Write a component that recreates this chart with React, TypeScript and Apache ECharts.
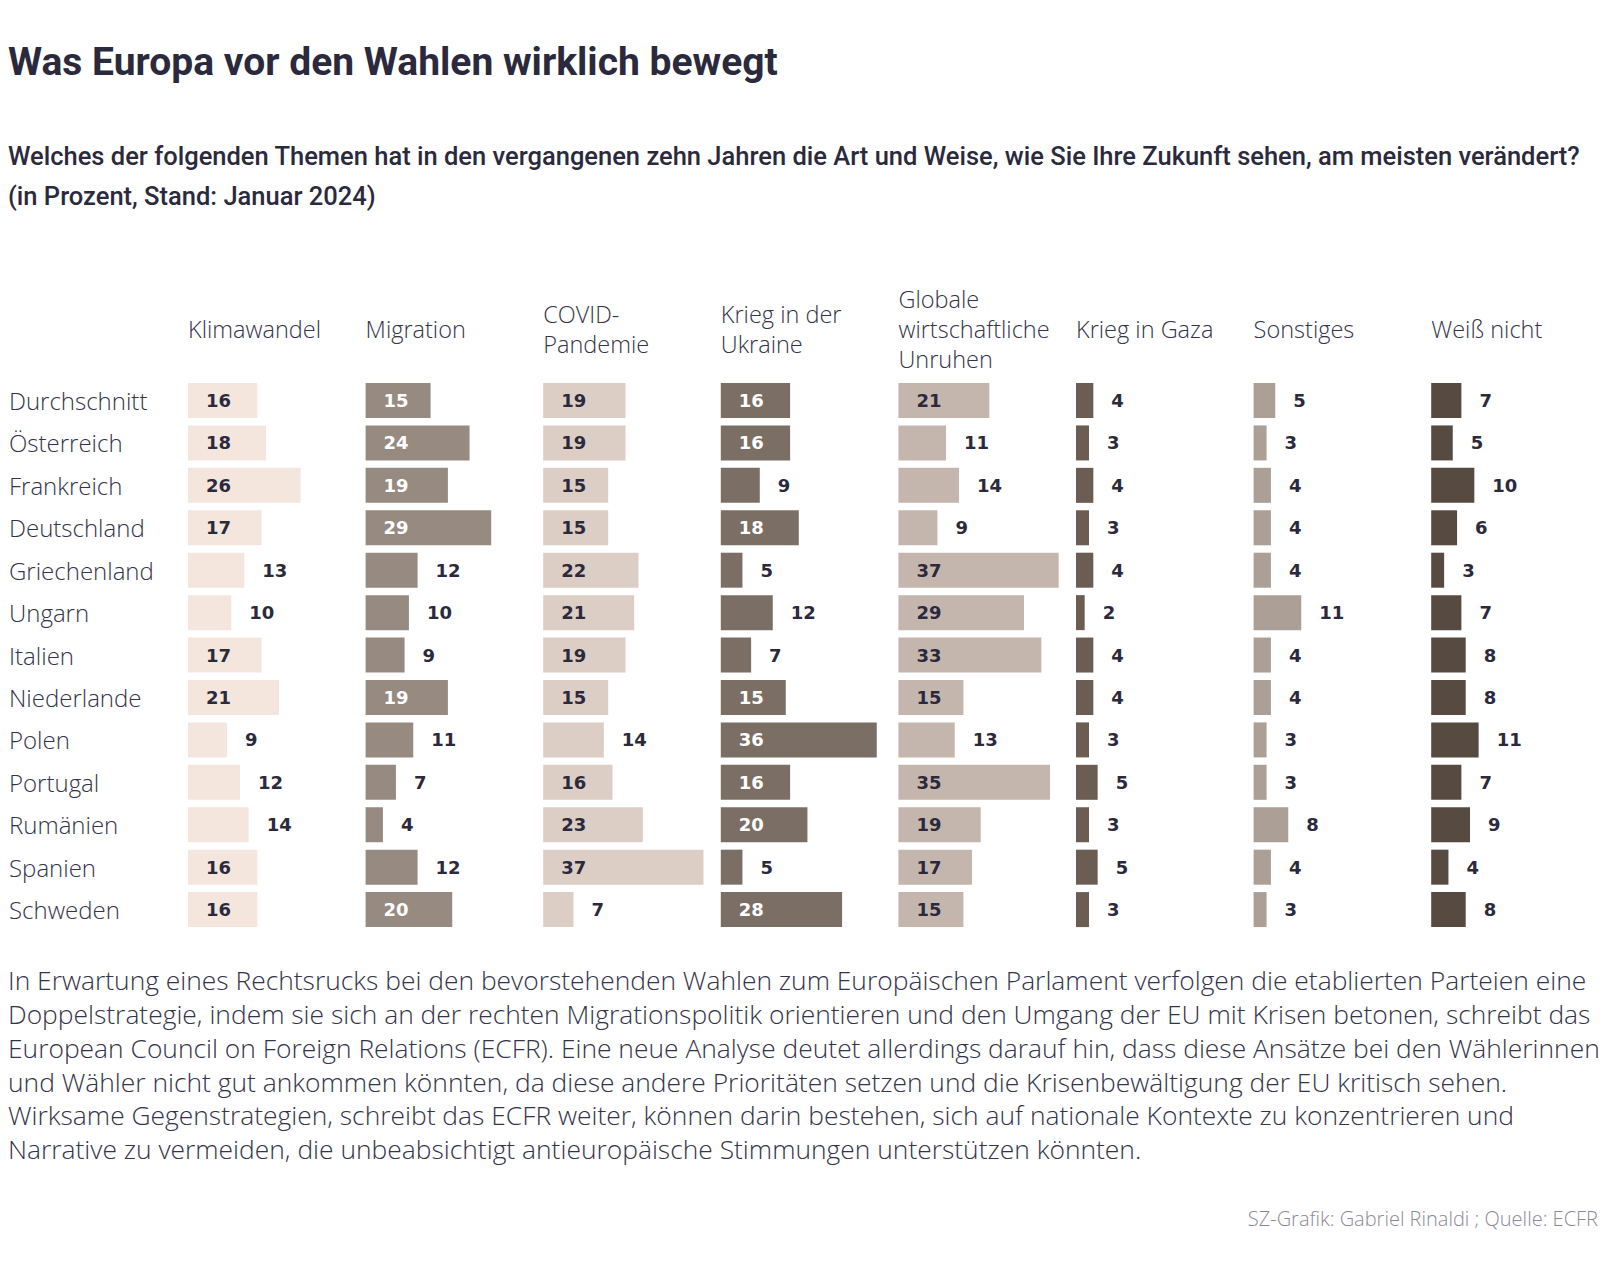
import React, { useEffect, useRef } from "react";
import * as echarts from "echarts";

const countries = [
  "Durchschnitt", "Österreich", "Frankreich", "Deutschland", "Griechenland", "Ungarn",
  "Italien", "Niederlande", "Polen", "Portugal", "Rumänien", "Spanien", "Schweden",
];
const topics = [
  "Klimawandel", "Migration", "COVID-\nPandemie", "Krieg in der\nUkraine",
  "Globale\nwirtschaftliche\nUnruhen", "Krieg in Gaza", "Sonstiges", "Weiß nicht",
];
const klimawandel = [16, 18, 26, 17, 13, 10, 17, 21, 9, 12, 14, 16, 16];
const migration = [15, 24, 19, 29, 12, 10, 9, 19, 11, 7, 4, 12, 20];
const covid = [19, 19, 15, 15, 22, 21, 19, 15, 14, 16, 23, 37, 7];
const ukraine = [16, 16, 9, 18, 5, 12, 7, 15, 36, 16, 20, 5, 28];
const globale = [21, 11, 14, 9, 37, 29, 33, 15, 13, 35, 19, 17, 15];
const gaza = [4, 3, 4, 3, 4, 2, 4, 4, 3, 5, 3, 5, 3];
const sonstiges = [5, 3, 4, 4, 4, 11, 4, 4, 3, 3, 8, 4, 3];
const weissNicht = [7, 5, 10, 6, 3, 7, 8, 8, 11, 7, 9, 4, 8];

const seriesValues = [klimawandel, migration, covid, ukraine, globale, gaza, sonstiges, weissNicht];
const barColors = ["#f4e6dd", "#978a80", "#dccec5", "#7b6f65", "#c5b6ad", "#6b5d52", "#ab9f96", "#574a40"];
const insideWhite = [false, true, false, true, false, true, false, true];

const title = "Was Europa vor den Wahlen wirklich bewegt";
const subtitle = "Welches der folgenden Themen hat in den vergangenen zehn Jahren die Art und Weise, wie Sie Ihre Zukunft sehen, am meisten verändert?\n(in Prozent, Stand: Januar 2024)";
const bodyLines = [
  "In Erwartung eines Rechtsrucks bei den bevorstehenden Wahlen zum Europäischen Parlament verfolgen die etablierten Parteien eine",
  "Doppelstrategie, indem sie sich an der rechten Migrationspolitik orientieren und den Umgang der EU mit Krisen betonen, schreibt das",
  "European Council on Foreign Relations (ECFR). Eine neue Analyse deutet allerdings darauf hin, dass diese Ansätze bei den Wählerinnen",
  "und Wähler nicht gut ankommen könnten, da diese andere Prioritäten setzen und die Krisenbewältigung der EU kritisch sehen.",
  "Wirksame Gegenstrategien, schreibt das ECFR weiter, können darin bestehen, sich auf nationale Kontexte zu konzentrieren und",
  "Narrative zu vermeiden, die unbeabsichtigt antieuropäische Stimmungen unterstützen könnten.",
];
const source = "SZ-Grafik: Gabriel Rinaldi ; Quelle: ECFR";

const TEXT = "#2b2a3d";
const LIGHT_FONT = "'Open Sans', 'Noto Sans', sans-serif";
const NUM_FONT = "'DejaVu Sans', sans-serif";

export default function App() {
  const ref = useRef<HTMLDivElement>(null);
  useEffect(() => {
    if (!ref.current) return;
    const chart = echarts.init(ref.current, null, { renderer: "svg" });
    const colLeft0 = 188;
    const colStep = 177.6;
    const gridTop = 379.3;
    const gridHeight = 551.5;

    const grids: any[] = [];
    const xAxes: any[] = [];
    const yAxes: any[] = [];
    const series: any[] = [];
    const graphics: any[] = [];

    seriesValues.forEach((vals, i) => {
      grids.push({ left: colLeft0 + colStep * i, top: gridTop, width: colStep, height: gridHeight });
      xAxes.push({ type: "value", gridIndex: i, min: 0, max: 41, show: false });
      yAxes.push({
        type: "category",
        gridIndex: i,
        inverse: true,
        data: countries,
        axisLine: { show: false },
        axisTick: { show: false },
        splitLine: { show: false },
        axisLabel: i === 0
          ? { show: true, align: "left", margin: colLeft0 - 9, fontFamily: LIGHT_FONT, fontWeight: 300, fontSize: 24, color: "#33334a", padding: [0, 0, 3, 0] }
          : { show: false },
      });
      series.push({
        type: "bar",
        xAxisIndex: i,
        yAxisIndex: i,
        barWidth: 35,
        itemStyle: { color: barColors[i] },
        data: vals.map((v) => {
          const inside = v >= 15;
          return {
            value: v,
            label: {
              show: true,
              position: inside ? "insideLeft" : "right",
              distance: 18,
              color: inside && insideWhite[i] ? "#ffffff" : TEXT,
              fontFamily: NUM_FONT,
              fontWeight: "bold",
              fontSize: 18,
            },
          };
        }),
      });
      graphics.push({
        type: "text",
        x: colLeft0 + colStep * i,
        y: 329,
        style: {
          text: topics[i],
          font: `300 23.5px ${LIGHT_FONT}`,
          fill: "#33334a",
          lineHeight: 30,
          verticalAlign: "middle",
          align: "left",
        },
      });
    });

    graphics.push({
      type: "text",
      x: 8,
      y: 62,
      style: { text: title, font: `bold 39px Roboto, sans-serif`, fill: TEXT, verticalAlign: "middle" },
    });
    graphics.push({
      type: "text",
      x: 8,
      y: 136,
      style: { text: subtitle, font: `500 25.5px Roboto, sans-serif`, fill: TEXT, lineHeight: 40, verticalAlign: "top" },
    });
    graphics.push({
      type: "text",
      x: 8,
      y: 963.6,
      style: { text: bodyLines.join("\n"), font: `300 26.4px ${LIGHT_FONT}`, fill: "#33334a", lineHeight: 33.7, verticalAlign: "top" },
    });
    graphics.push({
      type: "text",
      x: 1598,
      y: 1218,
      style: { text: source, font: `300 20px ${LIGHT_FONT}`, fill: "#8a8a96", align: "right", verticalAlign: "middle" },
    });

    chart.setOption({
      animation: false,
      backgroundColor: "#ffffff",
      grid: grids,
      xAxis: xAxes,
      yAxis: yAxes,
      series,
      graphic: graphics,
    });
    return () => chart.dispose();
  }, []);
  return <div ref={ref} style={{ position: "absolute", left: 0, top: 0, width: 1608, height: 1278 }} />;
}
